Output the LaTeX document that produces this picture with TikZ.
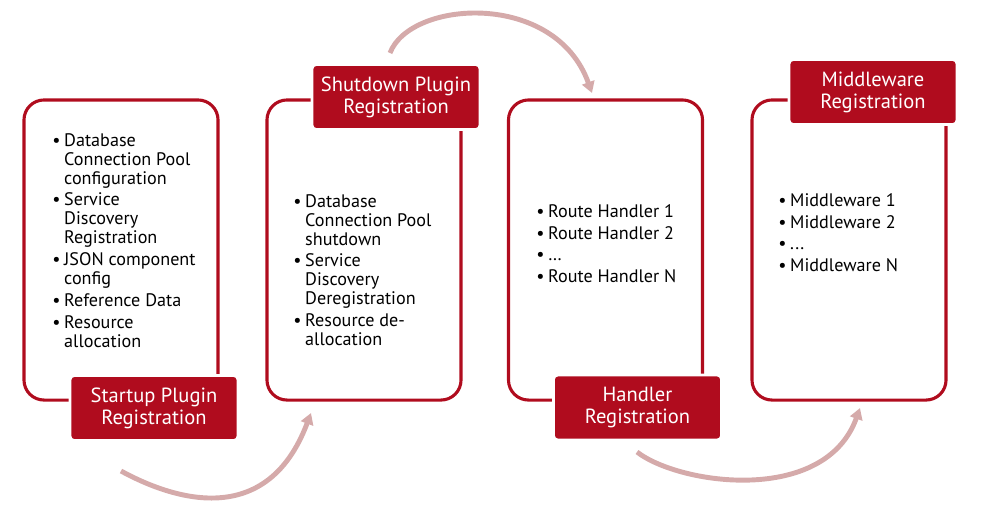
\documentclass[tikz,border=0pt]{standalone}
\usepackage{fontspec}
\setmainfont{PT Sans}
\usetikzlibrary{arrows.meta}

\definecolor{stagered}{HTML}{B00C1E}
\definecolor{flowpink}{HTML}{D5AAAA}

\newcommand{\bul}{\makebox[8.5pt][l]{\textbullet}}
\newcommand{\cnt}{\hspace*{8.5pt}}

\tikzset{
  stage/.style={draw=stagered, line width=2.2pt, rounded corners=0.5cm,
    minimum width=4.85cm, minimum height=7.5cm},
  stagelabel/.style={fill=stagered, draw=white, line width=2pt, rounded corners=3pt,
    text=white, minimum width=4.2cm, minimum height=1.625cm, align=center,
    font=\fontsize{14.6}{15.6}\selectfont},
  items/.style={anchor=north west, align=left, inner sep=0pt,
    font=\fontsize{12.9}{13.5}\selectfont},
  flow/.style={draw=flowpink, line width=3.5pt, -{Triangle[width=9pt,length=8pt]}}
}

\begin{document}
\begin{tikzpicture}[x=0.025cm, y=-0.025cm]
  \useasboundingbox (0,0) rectangle (984,509);

  % Stage outlines
  \node[stage] (startup) at (121,250) {};
  \node[stage] (shutdown) at (364,250) {};
  \node[stage] (handler) at (605.5,250) {};
  \node[stage] (middleware) at (849,250) {};

  % Stage contents
  \node[items] (startupitems) at (52,133) {\bul Database\\ \cnt Connection Pool\\ \cnt configuration\\[2pt]
    \bul Service\\ \cnt Discovery\\ \cnt Registration\\[2pt]
    \bul JSON component\\ \cnt config\\[2pt]
    \bul Reference Data\\[2pt]
    \bul Resource\\ \cnt allocation};
  \node[items] (shutdownitems) at (293,194) {\bul Database\\ \cnt Connection Pool\\ \cnt shutdown\\[2pt]
    \bul Service\\ \cnt Discovery\\ \cnt Deregistration\\[2pt]
    \bul Resource de-\\ \cnt allocation};
  \node[items] (handleritems) at (536,204) {\bul Route Handler 1\\[2pt] \bul Route Handler 2\\[2pt]
    \bul …\\[2pt] \bul Route Handler N};
  \node[items] (middlewareitems) at (778,193) {\bul Middleware 1\\[2pt] \bul Middleware 2\\[2pt]
    \bul ...\\[2pt] \bul Middleware N};

  % Stage labels
  \node[stagelabel] (startuplabel) at (154,408) {Startup Plugin\\Registration};
  \node[stagelabel] (shutdownlabel) at (396,97) {Shutdown Plugin\\Registration};
  \node[stagelabel] (handlerlabel) at (637.5,407.5) {Handler\\Registration};
  \node[stagelabel] (middlewarelabel) at (873,92) {Middleware\\Registration};

  % Flow arrows
  \coordinate (f1s) at (121,471);
  \coordinate (f1e) at (311,413);
  \coordinate (f2s) at (390,53);
  \coordinate (f2e) at (592,93);
  \coordinate (f3s) at (637,452);
  \coordinate (f3e) at (860,408);
  \draw[flow] (f1s) .. controls (165,495) and (265,535) .. (f1e);
  \draw[flow] (f2s) .. controls (410,0) and (555,-10) .. (f2e);
  \draw[flow] (f3s) .. controls (680,485) and (825,505) .. (f3e);

\end{tikzpicture}
\end{document}
